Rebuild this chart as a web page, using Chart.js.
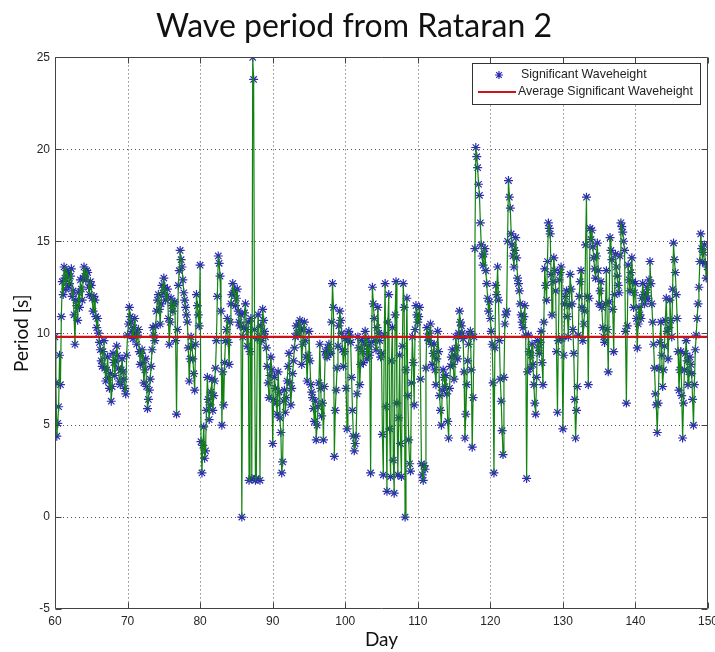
<!DOCTYPE html>
<html>
<head>
<meta charset="utf-8">
<title>Wave period from Rataran 2</title>
<script src="https://cdn.jsdelivr.net/npm/chart.js@4"></script>
<style>
  html, body { margin: 0; padding: 0; background: #fff; }
  #wrap { width: 715px; height: 652px; }
</style>
</head>
<body>
<div id="wrap"><canvas id="waveChart" width="715" height="652"></canvas></div>
<script>
// one reading every 3 hours, starting at day 60
const firstDay = 60;
const stepDays = 0.125;

// wave period [s], one row per day
const periods = [
  9.8, 7.3, 4.4, 5.1, 6.0, 8.8, 7.2, 10.9,          // 60
  12.8, 12.1, 13.6, 13.0, 12.4, 13.4, 13.2, 12.6,
  12.7, 13.1, 13.5, 12.0, 12.3, 11.0, 9.4, 11.8,
  11.5, 10.7, 12.2, 11.4, 12.9, 12.4, 11.8, 13.0,
  13.6, 13.1, 12.9, 13.4, 13.3, 12.5, 12.1, 12.8,
  12.6, 11.9, 11.2, 12.0, 11.8, 10.9, 10.3, 10.8,
  10.0, 9.5, 9.1, 8.5, 8.2, 9.0, 9.6, 8.1,
  7.4, 8.0, 8.7, 7.6, 7.0, 7.8, 6.3, 7.1,
  8.9, 8.4, 7.7, 8.5, 9.3, 8.8, 8.1, 7.4,
  7.2, 8.0, 8.6, 7.9, 7.5, 7.0, 6.7, 8.8,
  9.9, 10.5, 11.4, 10.9, 10.6, 10.1, 9.7, 10.3,     // 70
  10.8, 10.0, 9.4, 9.9, 10.2, 9.0, 8.3, 8.9,
  9.1, 8.4, 7.3, 8.0, 8.6, 7.1, 5.9, 6.4,
  6.9, 7.5, 8.2, 9.1, 10.3, 9.9, 9.6, 10.4,
  11.2, 11.8, 12.1, 11.3, 10.5, 11.6, 12.6, 12.2,
  13.0, 12.5, 11.8, 12.0, 12.4, 10.8, 9.4, 10.6,
  11.9, 11.5, 11.2, 11.6, 11.7, 9.6, 5.6, 10.2,
  12.6, 13.4, 14.5, 14.0, 13.6, 12.9, 12.2, 11.8,
  11.4, 11.0, 10.6, 9.2, 7.4, 8.6, 9.8, 9.3,
  8.6, 7.8, 6.9, 9.4, 12.1, 11.5, 11.0, 10.4,
  13.7, 4.1, 2.4, 3.9, 4.9, 3.2, 3.6, 5.8,          // 80
  7.6, 6.4, 5.3, 6.1, 6.8, 7.5, 5.8, 6.6,
  7.4, 8.1, 9.6, 12.0, 14.2, 13.8, 13.1, 11.2,
  5.0, 7.9, 6.1, 8.4, 9.6, 10.2, 10.8, 9.5,
  8.3, 10.6, 11.6, 12.1, 12.7, 12.2, 12.3, 11.5,
  11.9, 12.4, 11.2, 10.6, 10.4, 11.0, 0.0, 9.8,
  10.3, 11.1, 11.6, 10.2, 9.3, 10.6, 2.0, 9.0,
  10.8, 2.1, 25.0, 23.8, 10.2, 2.0, 2.1, 9.7,
  11.0, 9.8, 2.0, 10.4, 9.6, 11.3, 10.7, 10.1,
  9.8, 9.2, 8.2, 7.3, 6.5, 7.7, 8.7, 8.0,
  4.0, 6.4, 7.6, 7.0, 6.2, 5.6, 7.9, 6.8,           // 90
  5.4, 4.6, 2.4, 3.0, 6.3, 6.9, 5.7, 6.5,
  7.4, 8.2, 8.9, 7.3, 6.1, 7.0, 7.8, 8.5,
  9.2, 9.8, 10.4, 10.0, 9.9, 10.5, 10.7, 10.2,
  8.3, 9.4, 10.2, 10.6, 9.6, 8.7, 7.4, 8.8,
  10.1, 8.5, 7.2, 6.8, 6.5, 5.9, 5.2, 6.3,
  4.2, 5.0, 6.0, 7.3, 9.4, 7.0, 5.5, 6.2,
  4.2, 7.1, 9.0, 8.8, 8.7, 9.2, 9.4, 9.0,
  8.9, 10.6, 12.7, 11.4, 3.3, 5.8, 6.9, 8.1,
  9.3, 10.4, 11.2, 10.7, 10.0, 9.1, 8.2, 9.0,
  9.7, 7.0, 4.8, 9.6, 10.1, 9.9, 9.5, 7.6,          // 100
  5.8, 4.4, 3.6, 4.0, 4.4, 6.7, 9.8, 9.2,
  7.2, 8.3, 9.6, 9.0, 8.4, 9.4, 10.1, 9.7,
  8.6, 9.0, 9.3, 8.8, 2.4, 9.5, 12.5, 11.6,
  10.8, 9.6, 9.1, 10.3, 11.4, 10.0, 9.6, 8.7,
  8.9, 4.5, 2.3, 9.9, 12.7, 6.0, 1.4, 10.6,
  12.1, 4.8, 2.2, 8.5, 10.3, 3.1, 1.3, 11.0,
  12.8, 6.2, 2.3, 5.4, 8.8, 4.0, 2.2, 9.3,
  12.7, 11.4, 0.0, 8.0, 11.9, 6.6, 4.2, 2.9,
  2.5, 7.3, 9.8, 8.4, 6.1, 10.2, 11.5, 11.0,
  10.6, 10.9, 11.4, 7.5, 2.9, 2.3, 2.0, 2.8,        // 110
  2.6, 8.1, 10.3, 9.8, 9.6, 10.0, 10.5, 9.4,
  8.3, 8.9, 9.4, 8.0, 7.2, 8.6, 10.1, 9.0,
  6.6, 5.8, 5.0, 6.9, 8.0, 7.6, 7.1, 7.7,
  6.7, 5.2, 4.3, 7.0, 8.2, 8.7, 9.1, 8.3,
  7.5, 8.8, 9.8, 9.2, 8.6, 10.0, 11.2, 10.6,
  10.4, 10.0, 9.7, 7.9, 4.3, 5.6, 7.2, 8.5,
  9.4, 9.9, 10.1, 8.0, 3.8, 6.5, 9.8, 14.6,
  20.1, 19.6, 19.0, 18.1, 17.5, 16.0, 14.8, 14.2,
  13.7, 14.3, 14.6, 13.4, 12.7, 11.9, 11.2, 11.7,
  10.8, 10.1, 9.4, 7.3, 2.4, 9.2, 12.6, 12.1,       // 120
  13.6, 11.8, 9.6, 7.5, 6.3, 4.7, 3.4, 7.6,
  10.5, 11.0, 11.2, 15.0, 18.3, 17.4, 16.8, 15.4,
  14.8, 14.2, 13.6, 14.5, 15.2, 14.1, 13.0, 12.7,
  12.3, 11.6, 11.0, 10.6, 10.3, 10.9, 11.5, 9.9,
  2.1, 7.9, 9.9, 9.0, 8.1, 8.8, 9.4, 8.3,
  7.2, 6.2, 5.6, 7.6, 9.6, 9.2, 8.9, 9.5,
  10.1, 8.4, 7.2, 10.6, 13.5, 12.6, 11.8, 13.9,
  16.0, 15.7, 15.4, 13.2, 11.0, 12.8, 14.1, 13.4,
  12.3, 9.0, 5.7, 9.6, 12.9, 13.3, 13.6, 9.7,
  4.8, 8.8, 11.6, 12.0, 12.3, 10.9, 9.8, 11.5,      // 130
  13.2, 12.4, 11.6, 10.2, 8.9, 6.4, 4.3, 5.8,
  7.1, 9.9, 12.0, 12.8, 13.4, 11.4, 9.6, 10.5,
  11.2, 14.8, 17.4, 12.0, 7.2, 11.9, 15.7, 15.1,
  15.6, 14.7, 14.1, 13.5, 13.0, 14.2, 14.9, 13.4,
  11.6, 12.3, 12.8, 11.4, 10.3, 9.8, 9.5, 11.6,
  13.4, 10.2, 7.9, 11.7, 15.2, 14.5, 14.0, 11.3,
  9.0, 12.1, 14.3, 13.6, 13.1, 12.6, 12.2, 14.2,
  16.0, 15.8, 15.5, 15.0, 14.5, 10.1, 6.2, 10.4,
  13.7, 12.9, 12.3, 13.3, 14.1, 12.8, 11.4, 12.2,
  12.7, 10.8, 9.2, 10.5, 11.4, 11.0, 10.8, 11.9,    // 140
  12.7, 12.1, 11.6, 11.9, 12.2, 12.5, 11.9, 12.9,
  13.9, 12.7, 11.6, 10.6, 9.4, 8.1, 6.7, 6.1,
  4.6, 6.2, 8.1, 9.5, 10.6, 8.8, 7.1, 8.0,
  9.3, 10.7, 11.9, 10.1, 8.6, 10.3, 11.8, 10.7,
  9.8, 12.4, 14.9, 14.0, 13.3, 12.1, 10.8, 9.0,
  6.9, 8.0, 9.0, 6.6, 4.3, 6.2, 8.0, 8.9,
  9.6, 8.5, 7.2, 7.9, 8.7, 8.3, 7.8, 6.4,
  5.0, 7.2, 9.1, 9.9, 10.8, 11.6, 12.5, 13.9,
  15.4, 14.6, 13.9, 14.4, 14.8, 13.8, 13.0, 13.6
];

const averagePeriod = 9.8;
const dayTicks = [60, 70, 80, 90, 100, 110, 120, 130, 140, 150];
const periodTicks = [-5, 0, 5, 10, 15, 20, 25];

const points = periods.map((p, i) => ({ x: firstDay + i * stepDays, y: p }));
const avgLine = [
  { x: dayTicks[0], y: averagePeriod },
  { x: dayTicks[dayTicks.length - 1], y: averagePeriod }
];

const starColor = '#2a2ab4';
const traceColor = '#128212';
const avgColor = '#cc1418';

// dotted grid, box frame with inward ticks (matlab look)
const framePlugin = {
  id: 'frame',
  beforeDatasetsDraw(chart) {
    const { ctx, chartArea: a, scales: { x, y } } = chart;
    ctx.save();
    ctx.strokeStyle = '#555';
    ctx.lineWidth = 1;
    ctx.setLineDash([1, 3]);
    ctx.beginPath();
    dayTicks.slice(1, -1).forEach(d => {
      const px = Math.round(x.getPixelForValue(d)) + 0.5;
      ctx.moveTo(px, a.top);
      ctx.lineTo(px, a.bottom);
    });
    periodTicks.slice(1, -1).forEach(v => {
      const py = Math.round(y.getPixelForValue(v)) + 0.5;
      ctx.moveTo(a.left, py);
      ctx.lineTo(a.right, py);
    });
    ctx.stroke();
    ctx.restore();
  },
  afterDatasetsDraw(chart) {
    const { ctx, chartArea: a, scales: { x, y } } = chart;
    const l = Math.round(a.left) + 0.5, r = Math.round(a.right) - 0.5;
    const t = Math.round(a.top) + 0.5, b = Math.round(a.bottom) - 0.5;
    ctx.save();
    ctx.strokeStyle = '#444';
    ctx.lineWidth = 1;
    ctx.beginPath();
    ctx.rect(l, t, r - l, b - t);
    dayTicks.forEach(d => {
      const px = Math.round(x.getPixelForValue(d)) + 0.5;
      ctx.moveTo(px, b); ctx.lineTo(px, b - 6);
      ctx.moveTo(px, t); ctx.lineTo(px, t + 6);
    });
    periodTicks.forEach(v => {
      const py = Math.round(y.getPixelForValue(v)) + 0.5;
      ctx.moveTo(l, py); ctx.lineTo(l + 6, py);
      ctx.moveTo(r, py); ctx.lineTo(r - 6, py);
    });
    ctx.stroke();
    ctx.restore();
  },
  afterDraw(chart) {
    // legend box, top right inside the axes
    const ctx = chart.ctx;
    const ds = chart.data.datasets;
    const bx = 472.5, by = 63.5, bw = 228, bh = 41;
    ctx.save();
    ctx.fillStyle = '#fff';
    ctx.strokeStyle = '#333';
    ctx.lineWidth = 1;
    ctx.fillRect(bx, by, bw, bh);
    ctx.strokeRect(bx, by, bw, bh);
    // star
    ctx.strokeStyle = starColor;
    ctx.lineWidth = 1.2;
    ctx.beginPath();
    const sx = 499, sy = 75, s = 4;
    ctx.moveTo(sx - s, sy); ctx.lineTo(sx + s, sy);
    ctx.moveTo(sx, sy - s); ctx.lineTo(sx, sy + s);
    ctx.moveTo(sx - s * 0.7, sy - s * 0.7); ctx.lineTo(sx + s * 0.7, sy + s * 0.7);
    ctx.moveTo(sx - s * 0.7, sy + s * 0.7); ctx.lineTo(sx + s * 0.7, sy - s * 0.7);
    ctx.stroke();
    // red line
    ctx.strokeStyle = avgColor;
    ctx.lineWidth = 2;
    ctx.beginPath();
    ctx.moveTo(478, 92); ctx.lineTo(516, 92);
    ctx.stroke();
    ctx.fillStyle = '#222';
    ctx.font = '12.4px "Liberation Sans", Arial, sans-serif';
    ctx.textBaseline = 'middle';
    ctx.fillText(ds[0].label, 521, 75);
    ctx.fillText(ds[2].label, 518, 92);
    ctx.restore();
  }
};

new Chart(document.getElementById('waveChart').getContext('2d'), {
  type: 'scatter',
  data: {
    datasets: [
      {
        label: 'Significant Waveheight',
        data: points,
        showLine: false,
        pointStyle: 'star',
        pointRadius: 4.5,
        borderWidth: 1.2,
        borderColor: starColor,
        backgroundColor: starColor,
        order: 3
      },
      {
        label: 'trace',
        data: points,
        showLine: true,
        pointRadius: 0,
        borderWidth: 1.2,
        borderColor: traceColor,
        tension: 0,
        order: 2
      },
      {
        label: 'Average Significant Waveheight',
        data: avgLine,
        showLine: true,
        pointRadius: 0,
        borderWidth: 2.2,
        borderColor: avgColor,
        order: 1
      }
    ]
  },
  options: {
    responsive: false,
    animation: false,
    layout: {
      autoPadding: false,
      padding: { top: 0, right: 7, bottom: 0, left: 0 }
    },
    plugins: {
      legend: { display: false },
      tooltip: { enabled: false },
      title: {
        display: true,
        text: 'Wave period from Rataran 2',
        color: '#111',
        font: { family: 'Lato', size: 32, weight: 'normal' },
        padding: { top: 7, bottom: 12 }
      }
    },
    scales: {
      x: {
        type: 'linear',
        min: dayTicks[0],
        max: dayTicks[dayTicks.length - 1],
        afterBuildTicks: scale => { scale.ticks = dayTicks.map(v => ({ value: v })); },
        afterFit: scale => {
          scale.height = 43;
          scale.paddingLeft = 0;
          scale.paddingRight = 0;
        },
        grid: { display: false, drawTicks: false },
        border: { display: false },
        ticks: {
          color: '#262626',
          font: { family: 'Liberation Sans', size: 12 },
          padding: 5,
          maxRotation: 0
        },
        title: {
          display: true,
          text: 'Day',
          color: '#111',
          font: { family: 'Lato', size: 19 },
          padding: { top: 0, bottom: 1 }
        }
      },
      y: {
        min: periodTicks[0],
        max: periodTicks[periodTicks.length - 1],
        afterBuildTicks: scale => { scale.ticks = periodTicks.map(v => ({ value: v })); },
        afterFit: scale => {
          scale.width = 55;
          scale.paddingTop = 0;
          scale.paddingBottom = 0;
        },
        grid: { display: false, drawTicks: false },
        border: { display: false },
        ticks: {
          color: '#262626',
          font: { family: 'Liberation Sans', size: 12 },
          padding: 5
        },
        title: {
          display: true,
          text: 'Period [s]',
          color: '#111',
          font: { family: 'Lato', size: 19 },
          padding: { top: 10, bottom: 0 }
        }
      }
    }
  },
  plugins: [framePlugin]
});
</script>
</body>
</html>
